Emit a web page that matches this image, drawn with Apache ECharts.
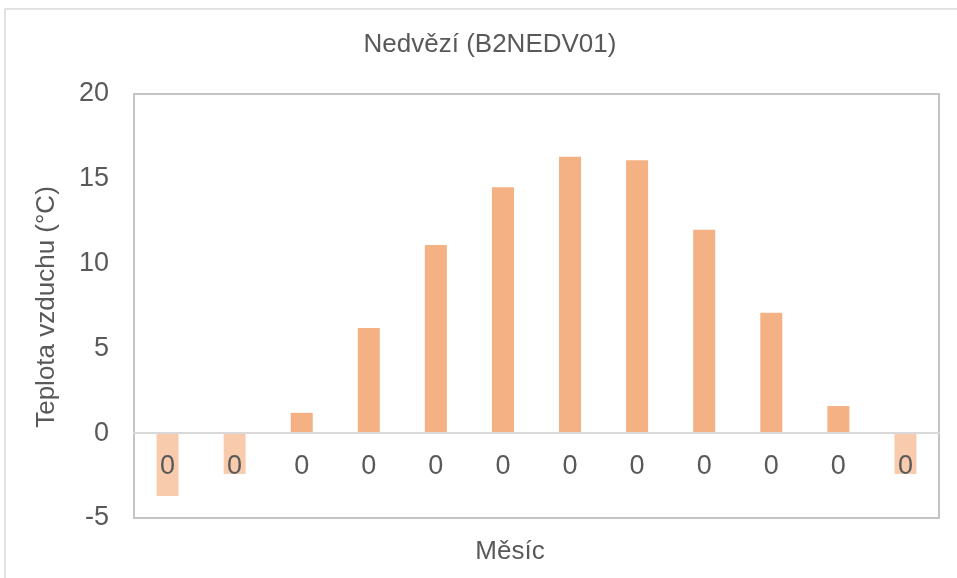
<!DOCTYPE html>
<html>
<head>
<meta charset="utf-8">
<script src="https://cdn.jsdelivr.net/npm/echarts@6/dist/echarts.min.js"></script>
<style>
  html, body { margin: 0; padding: 0; background: #fff; }
  #chart { width: 957px; height: 578px; }
</style>
</head>
<body>
<div id="chart"></div>
<script>
// Monthly mean air temperature, station Nedvězí (B2NEDV01)
const chartTitle = 'Nedvězí (B2NEDV01)';
const xAxisTitle = 'Měsíc';
const yAxisTitle = 'Teplota vzduchu (°C)';
const monthLabels = ['0', '0', '0', '0', '0', '0', '0', '0', '0', '0', '0', '0'];
const temperatures = [-3.7, -2.4, 1.2, 6.2, 11.1, 14.5, 16.3, 16.1, 12.0, 7.1, 1.6, -2.4];
const yMin = -5, yMax = 20, yStep = 5;

const positiveColor = '#F4B183';
const negativeColor = '#F8CBAD';
const textColor = '#595959';
const font = 'Liberation Sans, Arial, sans-serif';

const chart = echarts.init(document.getElementById('chart'), null, { renderer: 'canvas' });

chart.setOption({
  backgroundColor: '#ffffff',
  animation: false,
  grid: { left: 134, right: 18, top: 94, bottom: 60, show: true, borderColor: '#C4C4C4', borderWidth: 2 },
  graphic: [
    { type: 'rect', shape: { x: 5, y: 9, width: 1000, height: 600 },
      style: { fill: 'none', stroke: '#D9D9D9', lineWidth: 1.5 }, silent: true, z: -10 },
    { type: 'text', x: 490, y: 45,
      style: { text: chartTitle, fill: textColor, font: '26px ' + font, textAlign: 'center', textVerticalAlign: 'middle' } },
    { type: 'text', x: 510, y: 552,
      style: { text: xAxisTitle, fill: textColor, font: '26px ' + font, textAlign: 'center', textVerticalAlign: 'middle' } },
    { type: 'text', x: 47, y: 307, rotation: Math.PI / 2,
      style: { text: yAxisTitle, fill: textColor, font: '26px ' + font, textAlign: 'center', textVerticalAlign: 'middle' } }
  ],
  xAxis: {
    type: 'category',
    data: monthLabels,
    z: 10,
    axisLine: { onZero: true, lineStyle: { color: '#D9D9D9', width: 2 } },
    axisTick: { show: false },
    // category labels sit just under the zero line, overlapping the negative bars
    axisLabel: { color: textColor, fontSize: 27, fontFamily: font, margin: -65 },
    splitLine: { show: false }
  },
  yAxis: {
    type: 'value',
    min: yMin, max: yMax, interval: yStep,
    axisLine: { show: false },
    axisTick: { show: false },
    splitLine: { show: false },
    axisLabel: { color: textColor, fontSize: 27, fontFamily: font, margin: 25 }
  },
  series: [{
    type: 'bar',
    data: temperatures,
    barWidth: 22,
    itemStyle: {
      color: p => (p.value < 0 ? negativeColor : positiveColor)
    }
  }]
});
</script>
</body>
</html>
